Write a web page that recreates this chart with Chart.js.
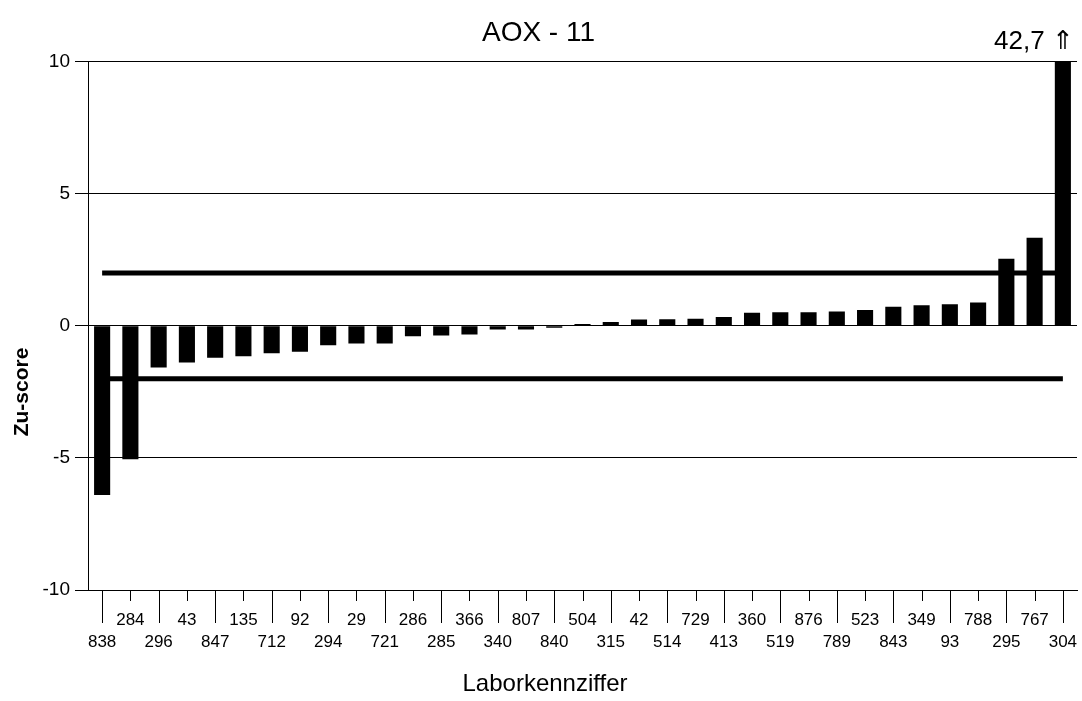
<!DOCTYPE html>
<html>
<head>
<meta charset="utf-8">
<script src="https://cdn.jsdelivr.net/npm/chart.js@4"></script>
<style>
  body { margin: 0; background: #fff; }
  #wrap { width: 1082px; height: 701px; }
</style>
</head>
<body>
<div id="wrap"><canvas id="zChart"></canvas></div>
<script>
// Laborkennziffer, sorted by z-score
const labs = ['838', '284', '296', '43', '847', '135', '712', '92', '294', '29', '721', '286',
    '285', '366', '340', '807', '840', '504', '315', '42', '514', '729', '413', '360',
    '519', '876', '789', '523', '843', '349', '93', '788', '295', '767', '304'];
const zScores = [-6.40, -5.05, -1.58, -1.39, -1.21, -1.15, -1.04, -0.98, -0.74, -0.67, -0.67, -0.40,
    -0.37, -0.33, -0.14, -0.14, -0.07, 0.07, 0.14, 0.24, 0.25, 0.27, 0.33, 0.49,
    0.51, 0.51, 0.54, 0.60, 0.72, 0.78, 0.82, 0.88, 2.54, 3.33, 42.7];
const upperLimit = [2, 2];
const lowerLimit = [-2, -2];
const yTicks = [-10, -5, 0, 5, 10];

Chart.defaults.font.family = "'Liberation Sans', Arial, sans-serif";
Chart.defaults.color = '#000';

const first = labs[0];
const lastLab = labs[labs.length - 1];

const extras = {
    id: 'extras',
    afterDraw(chart) {
        const ctx = chart.ctx;
        const xs = chart.scales.x;
        const ys = chart.scales.y;
        ctx.save();
        // tick marks, long ones for the lower row
        ctx.strokeStyle = '#000';
        ctx.lineWidth = 1;
        ctx.beginPath();
        labs.forEach((l, i) => {
            const x = Math.round(xs.getPixelForValue(i)) + 0.5;
            ctx.moveTo(x, xs.top);
            ctx.lineTo(x, xs.top + (i % 2 ? 11 : 33));
        });
        ctx.stroke();

        // off-scale value above the last bar
        const last = zScores.length - 1;
        ctx.fillStyle = '#000';
        ctx.font = "26px 'Liberation Sans', Arial, sans-serif";
        ctx.textAlign = 'right';
        ctx.textBaseline = 'middle';
        ctx.fillText(String(zScores[last]).replace('.', ',') + ' \u21D1',
            xs.getPixelForValue(last) + 11, ys.top - 20);

        // axis titles
        ctx.textAlign = 'center';
        ctx.font = "24px 'Liberation Sans', Arial, sans-serif";
        ctx.fillText('Laborkennziffer', chart.width / 2 + 4, 684);
        ctx.translate(22, 392);
        ctx.rotate(-Math.PI / 2);
        ctx.font = "bold 21px 'Liberation Sans', Arial, sans-serif";
        ctx.fillText('Zu-score', 0, 0);
        ctx.restore();
    }
};

new Chart(document.getElementById('zChart'), {
    type: 'bar',
    data: {
        labels: labs,
        datasets: [{
            data: zScores,
            backgroundColor: '#000',
            barPercentage: 0.57,
            categoryPercentage: 1,
            order: 0
        }, {
            type: 'line',
            data: [{ x: first, y: upperLimit[0] }, { x: lastLab, y: upperLimit[1] }],
            borderColor: '#000',
            borderWidth: 5,
            pointRadius: 0,
            order: 1
        }, {
            type: 'line',
            data: [{ x: first, y: lowerLimit[0] }, { x: lastLab, y: lowerLimit[1] }],
            borderColor: '#000',
            borderWidth: 5,
            pointRadius: 0,
            order: 1
        }]
    },
    options: {
        responsive: true,
        maintainAspectRatio: false,
        animation: false,
        layout: { padding: { left: 0, right: 5, top: 0, bottom: 0 } },
        plugins: {
            legend: { display: false },
            tooltip: { enabled: false },
            title: {
                display: true,
                text: 'AOX - 11',
                font: { size: 28, weight: 'normal' },
                color: '#000',
                padding: { top: 16, bottom: 12 }
            }
        },
        scales: {
            x: {
                grid: { display: false, drawTicks: false },
                border: { display: true, color: '#000' },
                ticks: {
                    autoSkip: false,
                    maxRotation: 0,
                    font: { size: 17, lineHeight: 1.25 },
                    padding: 20,
                    // two rows like the original: odd ones on top, even ones below
                    callback: (v, i) => (i % 2 ? [labs[i], ''] : ['', labs[i]])
                },
                afterFit(scale) {
                    scale.height = 111;
                    scale.paddingLeft = 0;
                    scale.paddingRight = 0;
                }
            },
            y: {
                min: yTicks[0],
                max: yTicks[yTicks.length - 1],
                afterBuildTicks(scale) { scale.ticks = yTicks.map(v => ({ value: v })); },
                grid: { color: '#000', lineWidth: 1, tickLength: 13 },
                border: { display: true, color: '#000' },
                ticks: { font: { size: 19 }, padding: 5 },
                afterFit(scale) {
                    scale.width = 88;
                    scale.paddingTop = 0;
                    scale.paddingBottom = 0;
                }
            }
        }
    },
    plugins: [extras]
});
</script>
</body>
</html>
